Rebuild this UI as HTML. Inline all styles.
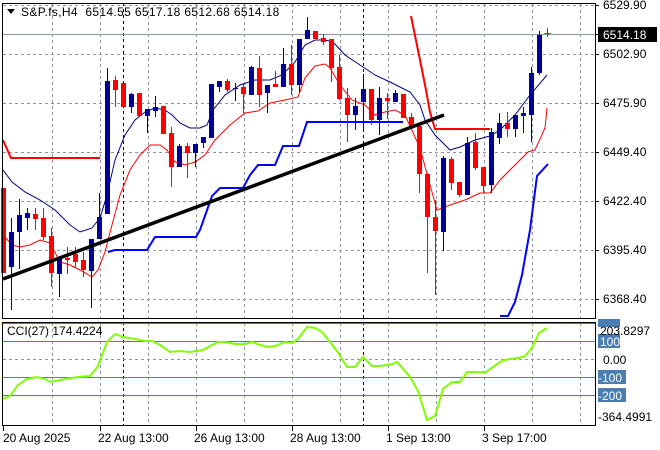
<!DOCTYPE html>
<html><head><meta charset="utf-8">
<style>
html,body{margin:0;padding:0;background:#fff;}
svg{display:block;font-family:"Liberation Sans",sans-serif;}
</style></head>
<body>
<svg id="s" width="660" height="450" xmlns="http://www.w3.org/2000/svg">
<rect width="660" height="450" fill="#fff"/>
<g id="grid" stroke="#8c96a0" stroke-dasharray="3,3" stroke-width="1"></g>
<line x1="123.5" y1="3" x2="123.5" y2="319" stroke="#000" stroke-dasharray="3,3"/>
<line x1="363.5" y1="3" x2="363.5" y2="319" stroke="#000" stroke-dasharray="3,3"/>
<line x1="123.5" y1="322" x2="123.5" y2="426" stroke="#000" stroke-dasharray="3,3"/>
<line x1="363.5" y1="322" x2="363.5" y2="426" stroke="#000" stroke-dasharray="3,3"/>
<line x1="2" y1="34.5" x2="595" y2="34.5" stroke="#8a96a0" stroke-width="1"/>
<polyline fill="none" stroke="#000080" stroke-width="1" points="3,170 12,182 25,192 40,200 55,210 70,225 80,232 92,228 100,218 107,195 115,160 125,135 135,120 145,112 155,108 165,110 172,115 180,123 190,128 200,128 207,125 213,110 225,95 240,85 255,80 270,80 282,75 295,62 305,45 315,40 325,40 333,42 345,55 360,65 375,75 390,82 410,92 420,105 425,120 435,135 450,150 460,147 475,140 490,136 500,130 515,115 530,95 547,75"/>
<polyline fill="none" stroke="#ff0000" stroke-width="1" points="3,235 12,245 20,247 30,245 40,240 50,243 60,262 70,265 80,270 92,277 98,270 105,252 112,225 120,195 130,170 140,155 150,145 160,145 167,150 175,162 185,165 195,162 205,155 215,140 230,125 245,113 258,111 270,103 285,100 298,97 305,78 315,66 325,64 330,68 340,85 352,100 365,105 375,115 385,112 395,110 405,115 420,148 430,185 437,210 450,205 465,200 480,193 490,193 500,180 515,165 528,152 535,150 545,128 547,108"/>
<polyline fill="none" stroke="#ff0000" stroke-width="2" points="3,140 11,158 100,158"/>
<polyline fill="none" stroke="#ff0000" stroke-width="2" points="411,16 420,60 426,90 430,112 435,129 490,129"/>
<polyline fill="none" stroke="#0000ff" stroke-width="2" points="108,252 115,250 147,250 155,237 196,237 200,230 206,213 212,196 220,188 243,188 250,175 258,165 275,165 283,146 299,146 307,122 403,122"/>
<polyline fill="none" stroke="#0000ff" stroke-width="2" points="500,316 508,316 515,302 522,275 530,230 537,176 548,164"/>
<g id="candles"></g>
<line x1="3" y1="279" x2="444" y2="115" stroke="#000" stroke-width="3.5"/>
<rect x="2.5" y="3.5" width="593" height="315" fill="none" stroke="#000"/>
<rect x="2.5" y="322.5" width="593" height="103" fill="none" stroke="#000"/>
<g id="ticks" stroke="#000"></g>
<g stroke="#4a7eb0" stroke-width="1">
<line x1="3" y1="323.5" x2="595" y2="323.5"/>
<line x1="3" y1="341.5" x2="595" y2="341.5"/>
<line x1="3" y1="377.5" x2="595" y2="377.5"/>
<line x1="3" y1="395.5" x2="595" y2="395.5"/>
</g>
<line x1="3" y1="359.5" x2="595" y2="359.5" stroke="#8c96a0" stroke-dasharray="3,3"/>
<polyline fill="none" stroke="#7fff00" stroke-width="2" points="3,399 10,396 18,385 27,379 37,377 45,379 50,382 55,381 65,379 78,377 90,376 98,366 107,342 115,334 123,337 135,339 145,341 152,341 160,345 170,352 180,351 190,352 203,350 210,346 218,342 225,342 235,344 245,344 252,342 260,345 268,347 275,346 285,342 292,343 298,339 307,327 315,328 322,332 330,342 337,351 347,367 355,367 363,357 372,366 380,366 392,364 397,362 410,377 418,391 427,420 435,416 443,389 452,382 460,382 467,372 480,372 486,372 500,362 505,360 510,359 518,358 525,356 532,348 539,333 547,328"/>
<path d="M7,9 L15,9 L11,14 Z" fill="#000"/>
<text x="21" y="16" font-size="12" fill="#000" xml:space="preserve" letter-spacing="0.35">S&amp;P.fs,H4  6514.55 6517.18 6512.68 6514.18</text>
<text x="7" y="335" font-size="12" fill="#000">CCI(27) 174.4224</text>
<g font-size="12" fill="#000">
<text x="603" y="9">6529.90</text>
<text x="603" y="58">6502.90</text>
<text x="603" y="107">6475.90</text>
<text x="603" y="156">6449.40</text>
<text x="603" y="205">6422.40</text>
<text x="603" y="254">6395.40</text>
<text x="603" y="303">6368.40</text>
</g>
<rect x="598" y="27" width="59" height="15" fill="#000"/>
<text x="603" y="39" font-size="12" fill="#fff">6514.18</text>
<rect x="598" y="319" width="22" height="8" fill="#4a7eb0"/>
<rect x="598" y="334" width="22" height="14" fill="#4a7eb0"/>
<rect x="598" y="370" width="28" height="14" fill="#4a7eb0"/>
<rect x="598" y="388" width="28" height="14" fill="#4a7eb0"/>
<g font-size="12">
<text x="600" y="335" fill="#000">203.8297</text>
<text x="600" y="346" fill="#fff">100</text>
<text x="603" y="364" fill="#000">0.00</text>
<text x="598" y="382" fill="#fff">-100</text>
<text x="598" y="400" fill="#fff">-200</text>
<text x="598" y="421" fill="#000">-364.4991</text>
</g>
<g font-size="12" fill="#000">
<text x="3" y="442">20 Aug 2025</text>
<text x="98" y="442">22 Aug 13:00</text>
<text x="194" y="442">26 Aug 13:00</text>
<text x="290" y="442">28 Aug 13:00</text>
<text x="386" y="442">1 Sep 13:00</text>
<text x="482" y="442">3 Sep 17:00</text>
</g>
</svg>
<script>
(function(){
var ns="http://www.w3.org/2000/svg";
function el(p,t,a){var e=document.createElementNS(ns,t);for(var k in a)e.setAttribute(k,a[k]);p.appendChild(e);return e;}
var g=document.getElementById("grid");
for(var x=52;x<=580;x+=48){el(g,"line",{x1:x+.5,y1:4,x2:x+.5,y2:318});el(g,"line",{x1:x+.5,y1:323,x2:x+.5,y2:425});}
[5,54,103,152,201,250,299].forEach(function(y){el(g,"line",{x1:3,y1:y+.5,x2:595,y2:y+.5});});
var tk=document.getElementById("ticks");
[5,54,103,152,201,250,299,34].forEach(function(y){el(tk,"line",{x1:595,y1:y+.5,x2:599,y2:y+.5});});
[3,100,196,292,388,484].forEach(function(x){el(tk,"line",{x1:x+.5,y1:426,x2:x+.5,y2:431});});
var R="#ff0000",B="#000099";
var d=[
[188,273,188,273,R],[232,267,218,310,B],[215,232,199,269,B],[213,218,208,230,B],[214,219,208,230,R],
[218,237,208,240,R],[236,273,228,287,R],[257,274,257,297,B],[258,260,247,274,R],[254,262,247,268,R],
[260,270,252,277,R],[239,271,239,308,B],[217,239,193,239,B],[81,214,68,214,B],[80,90,76,107,R],
[83,107,83,107,R],[94,107,93,113,B],[93,116,93,116,R],[109,116,109,133,B],[107,111,96,117,B],
[106,134,106,134,R],[133,167,127,187,R],[146,167,144,167,B],[146,153,143,178,R],[144,153,144,167,B],
[137,143,137,148,B],[84,138,84,138,B],[81,87,81,92,B],[81,90,79,92,R],[88,89,83,101,B],
[87,94,83,113,R],[67,95,66,95,B],[68,95,56,107,R],[85,93,85,113,B],[84,87,71,87,R],
[64,87,48,87,B],[64,85,45,95,R],[39,85,39,92,B],[30,39,17,39,B],[31,39,31,39,R],
[38,42,34,45,R],[39,68,39,82,R],[67,99,55,100,R],[98,115,88,142,R],[106,115,98,130,B],
[89,102,74,130,B],[89,120,89,125,R],[98,120,87,135,B],[98,101,93,119,R],[93,102,90,102,B],
[94,118,94,118,R],[117,126,113,128,R],[126,174,126,193,R],[174,217,173,273,R],[217,231,200,295,R],
[158,232,156,251,B],[159,183,157,190,R],[182,195,182,197,R],[143,195,137,195,B],[142,168,133,170,R],
[167,186,167,193,R],[132,185,128,193,B],[123,138,113,144,B],[123,129,112,137,R],[115,129,115,137,B],
[113,116,107,133,B],[73,115,67,142,B],[35,73,31,75,B],[33,34,28,37,R]];
var c=document.getElementById("candles");
d.forEach(function(v,i){var x=3.5+8*i;
el(c,"line",{x1:x,y1:v[2],x2:x,y2:v[3],stroke:v[4],"stroke-width":1});
var h=Math.max(1,v[1]-v[0]);
if(i==68){el(c,"line",{x1:x-3,y1:v[0]+.5,x2:x+3,y2:v[0]+.5,stroke:v[4]});}
else el(c,"rect",{x:x-2.5,y:v[0],width:5,height:h,fill:v[4]});});
})();
</script>
</body></html>
